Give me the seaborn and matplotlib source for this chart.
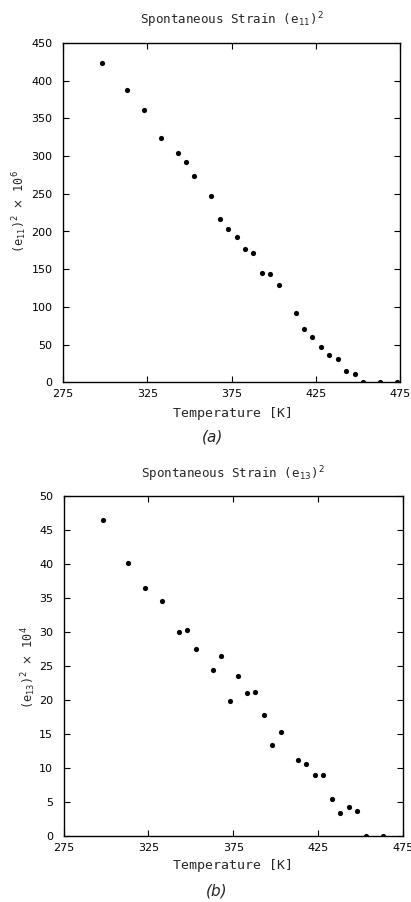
import numpy as np
import pandas as pd
import matplotlib
matplotlib.use("Agg")
import matplotlib.pyplot as plt
import seaborn as sns

# ---- data ----
temp_a = [298, 313, 323, 333, 343, 348, 353, 363, 368, 373, 378, 383, 388, 393,
          398, 403, 413, 418, 423, 428, 433, 438, 443, 448, 453, 463, 473]
e11_sq = [423, 388, 361, 324, 304, 291.6, 274, 247.5, 216.5, 203, 192.3, 177.4, 172,
          144.6, 143.3, 128.4, 92.2, 71, 60.4, 47.2, 36.2, 30.5, 15.4, 11.4, 0, 0, 0]

temp_b = [298, 313, 323, 333, 343, 348, 353, 363, 368, 373, 378, 383, 388, 393,
          398, 403, 413, 418, 423, 428, 433, 438, 443, 448, 453, 463]
e13_sq = [46.5, 40.1, 36.4, 34.5, 30.0, 30.3, 27.5, 24.3, 26.5, 19.8, 23.5, 21.0, 21.2,
          17.8, 13.3, 15.3, 11.2, 10.5, 9.0, 8.9, 5.4, 3.3, 4.2, 3.7, 0, 0]

x_ticks = [275, 325, 375, 425, 475]
ya_ticks = [0, 50, 100, 150, 200, 250, 300, 350, 400, 450]
yb_ticks = [0, 5, 10, 15, 20, 25, 30, 35, 40, 45, 50]

titles = [r"Spontaneous Strain (e$_{11}$)$^2$", r"Spontaneous Strain (e$_{13}$)$^2$"]
ylabels = [r"(e$_{11}$)$^2$ $\times$ 10$^6$", r"(e$_{13}$)$^2$ $\times$ 10$^4$"]
xlabel = "Temperature [K]"
captions = ["(a)", "(b)"]

sns.set_style("ticks")
plt.rcParams['font.family'] = ['DejaVu Sans']
plt.rcParams['mathtext.fontset'] = 'dejavusans'

W, H = 411, 902
fig = plt.figure(figsize=(W / 100, H / 100), dpi=100)
fig.patch.set_facecolor("white")

def px_axes(l, r, t, b):
    return fig.add_axes([l / W, 1 - b / H, (r - l) / W, (b - t) / H])

axa = px_axes(63, 400, 43, 382.3)
axb = px_axes(63.5, 403, 495.7, 835.7)

dfa = pd.DataFrame({"T": temp_a, "v": e11_sq})
dfb = pd.DataFrame({"T": temp_b, "v": e13_sq})

specs = [
    (axa, dfa, ya_ticks, (0, 450)),
    (axb, dfb, yb_ticks, (0, 50)),
]

for ax, df, yt, ylim in specs:
    sns.scatterplot(data=df, x="T", y="v", ax=ax, color="black", s=14,
                    edgecolor="black", linewidth=0, legend=False)
    ax.set_xlim(275, 475)
    ax.set_ylim(*ylim)
    ax.set_xticks(x_ticks)
    ax.set_yticks(yt)
    ax.tick_params(direction="in", length=4, width=0.8, top=True, right=True,
                   colors="black", labelsize=8)
    ax.tick_params(axis="x", pad=5)
    ax.tick_params(axis="y", pad=7.5)
    for sp in ax.spines.values():
        sp.set_visible(True)
        sp.set_linewidth(1.0)
        sp.set_color("black")
    ax.set_xlabel("")
    ax.set_ylabel("")

mono = "DejaVu Sans Mono"
# titles
fig.text(232 / W, 1 - 20.5 / H, titles[0], ha="center", va="center",
         fontsize=9, family=mono)
fig.text(232.5 / W, 1 - 474 / H, titles[1], ha="center", va="center",
         fontsize=9, family=mono)
# y labels
fig.text(20 / W, 1 - 212 / H, ylabels[0], ha="center", va="center",
         rotation=90, fontsize=8.5, family=mono)
fig.text(29 / W, 1 - 668 / H, ylabels[1], ha="center", va="center",
         rotation=90, fontsize=8.5, family=mono)
# x labels
fig.text(232.5 / W, 1 - 413 / H, xlabel, ha="center", va="center",
         fontsize=9.5, family=mono)
fig.text(232.5 / W, 1 - 865 / H, xlabel, ha="center", va="center",
         fontsize=9.5, family=mono)
# captions
fig.text(213 / W, 1 - 437 / H, captions[0], ha="center", va="center",
         fontsize=11, style="italic")
fig.text(217 / W, 1 - 891 / H, captions[1], ha="center", va="center",
         fontsize=11, style="italic")

fig.savefig("out.png", dpi=100)
